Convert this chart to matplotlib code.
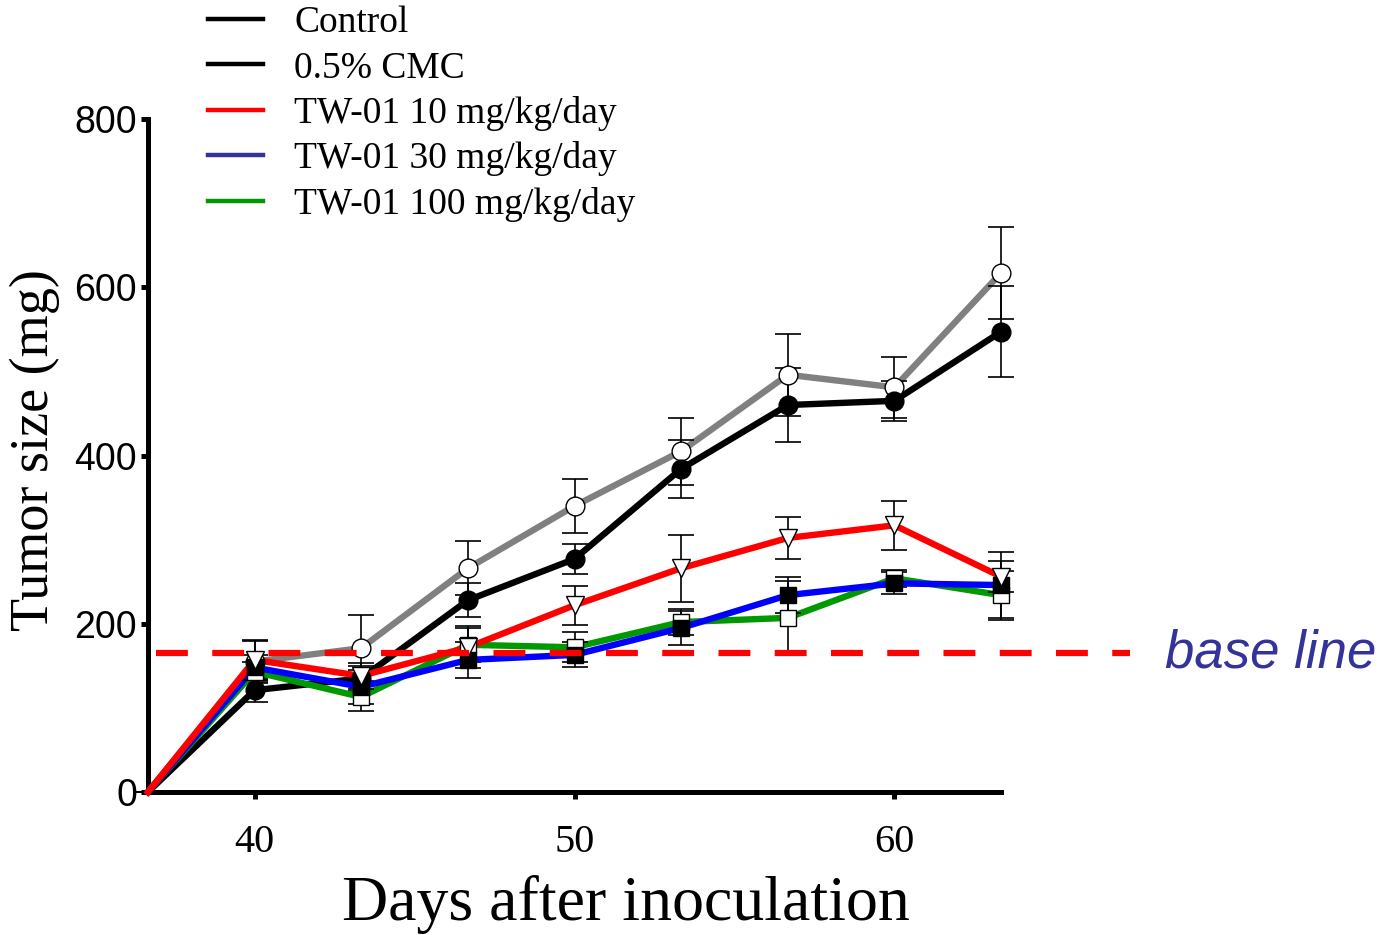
import matplotlib
matplotlib.use('Agg')
import matplotlib.pyplot as plt
from matplotlib.lines import Line2D

# days after inoculation (measurements every ~3.3 days)
days = [36.67, 40, 43.33, 46.67, 50, 53.33, 56.67, 60, 63.33]

# mean tumor size (mg) and error per group
control = [0, 155, 171, 266, 340, 405, 496, 481, 617]
control_err = [0, 25, 39, 32, 32, 40, 49, 36, 55]
cmc = [0, 121, 135, 228, 277, 384, 460, 465, 547]
cmc_err = [0, 14, 15, 20, 18, 35, 44, 24, 54]
tw10 = [0, 157, 138, 172, 222, 266, 302, 317, 256]
tw10_err = [0, 24, 15, 25, 23, 40, 25, 29, 18]
tw30 = [0, 148, 125, 157, 163, 195, 234, 248, 246]
tw30_err = [0, 15, 20, 21, 15, 20, 21, 13, 39]
tw100 = [0, 143, 113, 175, 172, 202, 207, 254, 234]
tw100_err = [0, 12, 17, 20, 18, 15, 44, 10, 29]

baseline = 165

labels = ['Control', '0.5% CMC', 'TW-01 10 mg/kg/day',
          'TW-01 30 mg/kg/day', 'TW-01 100 mg/kg/day']
legend_colors = ['black', 'black', '#ff0000', '#333399', '#009900']

serif = 'Liberation Serif'
sans = 'Liberation Sans'

fig = plt.figure(figsize=(13.95, 9.35), dpi=100)
ax = fig.add_axes([148 / 1395, 1 - 792 / 935, (1001 - 148) / 1395, (792 - 119) / 935])

series = [
    (control, control_err, '#808080', 'o', 'white', 13.5),
    (cmc, cmc_err, 'black', 'o', 'black', 13.5),
    (tw100, tw100_err, '#009900', 's', 'white', 11.5),
    (tw30, tw30_err, '#0000ff', 's', 'black', 11.5),
    (tw10, tw10_err, '#ff0000', 'v', 'white', 13.5),
]

for i, (vals, err, col, mk, face, ms) in enumerate(series):
    ax.errorbar(days, vals, yerr=err, fmt='none', ecolor='black',
                elinewidth=1.2, capsize=9.5, capthick=1.2, zorder=2 + i, clip_on=False)
    ax.plot(days, vals, color=col, lw=4.6, zorder=3 + i, clip_on=False)
    ax.plot(days[1:], vals[1:], ls='none', marker=mk, ms=ms, mfc=face,
            mec='black', mew=1.0, zorder=8 + i, clip_on=False)

# base line
ax.plot([36.92, 67.35], [baseline, baseline], color='#ff0000', lw=4.5,
        dashes=(5.1, 3.9), zorder=20, clip_on=False)
ax.text(68.45, baseline, 'base line', color='#333399', fontsize=38,
        family=sans, style='italic', va='center', ha='left')

ax.set_xlim(36.67, 63.33)
ax.set_ylim(0, 800)
ax.set_xticks([40, 50, 60])
ax.set_yticks([0, 200, 400, 600, 800])

for s in ['top', 'right']:
    ax.spines[s].set_visible(False)
for s in ['left', 'bottom']:
    ax.spines[s].set_linewidth(3.6)

ax.tick_params(axis='x', direction='out', length=5, width=3.6, pad=18)
ax.tick_params(axis='y', direction='out', length=5, width=3.6, pad=3)
for t in ax.get_xticklabels():
    t.set_fontfamily(serif)
    t.set_fontsize(29)
for t in ax.get_yticklabels():
    t.set_fontfamily(sans)
    t.set_fontsize(27)

fig.text(626 / 1395, 1 - 905 / 935, 'Days after inoculation', family=serif,
         fontsize=46, ha='center', va='center')
fig.text(35 / 1395, 1 - 450 / 935, 'Tumor size (mg)', family=serif,
         fontsize=39, ha='center', va='center', rotation=90)

handles = [Line2D([0], [0], color=c, lw=3.2) for c in legend_colors]
fig.legend(handles, labels, loc='upper left', bbox_to_anchor=(208 / 1395, 1 - 6 / 935),
           frameon=False, prop={'family': serif, 'size': 27}, handlelength=1.47,
           handletextpad=0.83, labelspacing=0.28, borderpad=0, borderaxespad=0)

fig.savefig('out.png', dpi=100)
